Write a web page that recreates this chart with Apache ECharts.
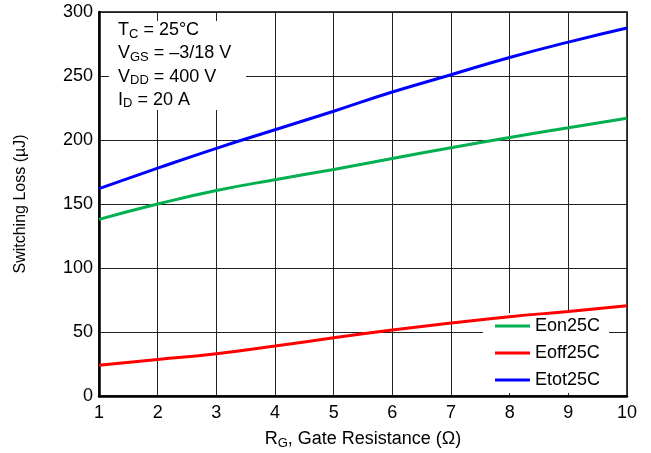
<!DOCTYPE html>
<html>
<head>
<meta charset="utf-8">
<script src="https://cdn.jsdelivr.net/npm/echarts@6/dist/echarts.min.js"></script>
<style>html,body{margin:0;padding:0;background:#fff;}#c{width:651px;height:453px;}</style>
</head>
<body>
<div id="c"></div>
<script>
var rg = [1, 2, 3, 4, 5, 6, 7, 8, 9, 10];
var eon25 = [138, 150, 160.5, 169, 177, 185.5, 194, 202, 209.5, 217];
var eoff25 = [24, 28.5, 33, 39, 45.5, 51.5, 57, 62, 66, 70.5];
var etot25 = [162, 178, 193.5, 208, 222.5, 237.5, 251, 264.5, 276.5, 287.5];
var seriesNames = ['Eon25C', 'Eoff25C', 'Etot25C'];
var conditions = [
  ['T', 'C', ' = 25°C'],
  ['V', 'GS', ' = \u20133/18 V'],
  ['V', 'DD', ' = 400 V'],
  ['I', 'D', ' = 20 A']
];

var FONT = '"Liberation Sans", Arial, Helvetica, sans-serif';
function pairs(arr) { return rg.map(function (x, i) { return [x, arr[i]]; }); }

var chart = echarts.init(document.getElementById('c'), null, {renderer: 'canvas'});

var richSub = {
  m: {fontSize: 18, fontFamily: FONT, color: '#000'},
  s: {fontSize: 13, fontFamily: FONT, color: '#000', padding: [8, 0, 0, 0]}
};

var graphics = [{
  type: 'rect', left: 109, top: 21, z: 10,
  shape: {width: 137, height: 89},
  style: {fill: '#fff'}
}];
conditions.forEach(function (c, i) {
  graphics.push({
    type: 'text', left: 118, top: 21 + i * 23.3, z: 11,
    style: {
      text: '{m|' + c[0] + '}{s|' + c[1] + '}{m|' + c[2] + '}',
      rich: richSub
    }
  });
});

chart.setOption({
  animation: false,
  backgroundColor: '#fff',
  grid: {left: 99, right: 24, top: 12, bottom: 57, outerBoundsMode: 'none', containLabel: false, show: true, borderColor: '#000', borderWidth: 1.5, backgroundColor: 'transparent'},
  legend: {
    orient: 'vertical', left: 483, top: 313,
    data: seriesNames,
    backgroundColor: '#fff',
    padding: [4, 9, 4, 12],
    icon: 'path://M0,0H35V3H0Z',
    itemWidth: 35, itemHeight: 14, itemGap: 9,
    textStyle: {fontSize: 18, fontFamily: FONT, color: '#000'},
    z: 3
  },
  xAxis: {
    type: 'value', min: 1, max: 10, interval: 1,
    name: '{m|R}{s|G}{m|, Gate Resistance (Ω)}',
    nameLocation: 'middle', nameGap: 33,
    nameTextStyle: {rich: {
      m: {fontSize: 18, fontFamily: FONT, color: '#000'},
      s: {fontSize: 13, fontFamily: FONT, color: '#000', padding: [8, 0, 0, 0]}
    }},
    axisLine: {show: true, lineStyle: {color: '#000', width: 2.5}},
    axisTick: {show: false},
    axisLabel: {fontSize: 18, fontFamily: FONT, color: '#000', margin: 8},
    splitLine: {show: true, lineStyle: {color: '#222', width: 1}}
  },
  yAxis: {
    type: 'value', min: 0, max: 300, interval: 50,
    name: 'Switching Loss (µJ)',
    nameLocation: 'middle', nameGap: 70,
    nameTextStyle: {fontSize: 16, fontFamily: FONT, color: '#000'},
    axisLine: {show: true, lineStyle: {color: '#000', width: 2.5}},
    axisTick: {show: false},
    axisLabel: {fontSize: 18, fontFamily: FONT, color: '#000', margin: 6},
    splitLine: {show: true, lineStyle: {color: '#222', width: 1}}
  },
  graphic: graphics,
  series: [
    {name: seriesNames[0], type: 'line', data: pairs(eon25), smooth: true, showSymbol: false, symbol: 'none', lineStyle: {color: '#00b050', width: 3}, itemStyle: {color: '#00b050'}},
    {name: seriesNames[1], type: 'line', data: pairs(eoff25), smooth: true, showSymbol: false, symbol: 'none', lineStyle: {color: '#ff0000', width: 3}, itemStyle: {color: '#ff0000'}},
    {name: seriesNames[2], type: 'line', data: pairs(etot25), smooth: true, showSymbol: false, symbol: 'none', lineStyle: {color: '#0000ff', width: 3}, itemStyle: {color: '#0000ff'}}
  ]
});
</script>
</body>
</html>
